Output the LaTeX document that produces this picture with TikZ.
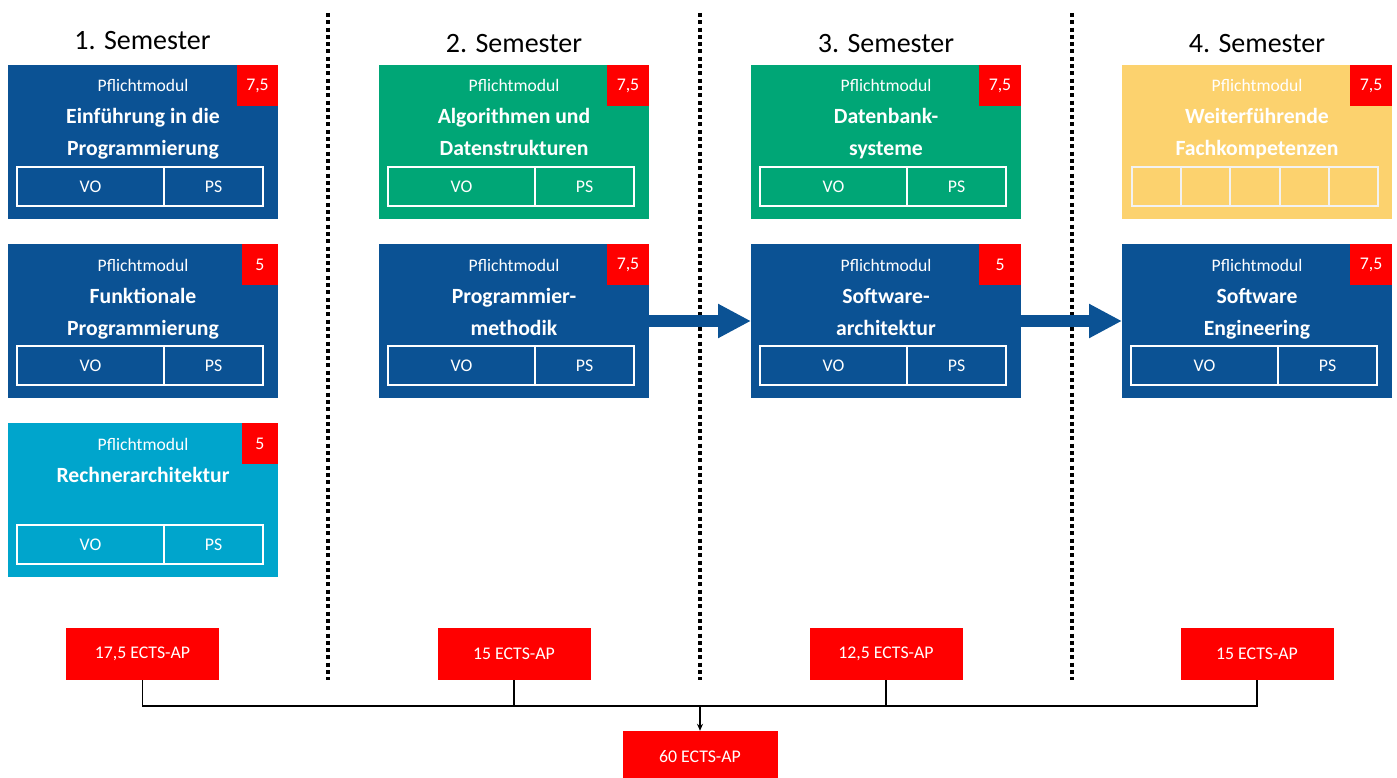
\documentclass[tikz,border=0pt]{standalone}
\usepackage{fontspec}
\setmainfont{Carlito}
\usetikzlibrary{arrows.meta}
\definecolor{uniblue}{RGB}{11,82,148}
\definecolor{unigreen}{RGB}{0,166,118}
\definecolor{unicyan}{RGB}{0,165,204}
\definecolor{uniyellow}{RGB}{252,210,110}
\definecolor{ectsred}{RGB}{255,0,0}
\definecolor{celllight}{RGB}{242,242,242}
\tikzset{
  modbg/.style={draw=none, minimum width=270pt, minimum height=154pt, inner sep=0pt, outer sep=0pt, anchor=north west},
  ptsbox/.style={fill=ectsred, text=white, inner sep=0pt, outer sep=0pt, minimum height=41pt, anchor=north east, font=\fontsize{17.8}{20}\selectfont},
  pflicht/.style={text=white, inner sep=0pt, anchor=base, font=\fontsize{17.6}{20}\selectfont},
  titleline/.style={text=white, inner sep=0pt, anchor=base, font=\fontsize{21.7}{26}\selectfont\bfseries},
  cell/.style={draw=white, line width=2pt, inner sep=0pt, outer sep=0pt, minimum height=39pt, anchor=north west, text=white, font=\fontsize{17.8}{20}\selectfont},
  lightcell/.style={draw=celllight, line width=2pt, inner sep=0pt, outer sep=0pt, minimum height=39pt, minimum width=49.2pt, anchor=north west},
  semester/.style={inner sep=0pt, anchor=base, font=\fontsize{28}{32}\selectfont},
  ects/.style={fill=ectsred, text=white, inner sep=0pt, minimum width=153pt, minimum height=52pt, font=\fontsize{17.8}{20}\selectfont},
  sepline/.style={line width=3.5pt, dash pattern=on 4pt off 3.3pt},
  bigarrow/.style={uniblue, line width=12pt, -{Triangle[length=33pt,width=32pt]}},
  conn/.style={line width=1.5pt, black},
}
% #1 name, #2 x, #3 y, #4 colour, #5 points, #6 red width, #7 title line 1, #8 title line 2
\newcommand\modbox[8]{%
  \node[modbg, fill=#4] (#1) at (#2,#3) {};
  \node[ptsbox, minimum width=#6pt] (#1-pts) at (#1.north east) {#5};
  \node[pflicht] (#1-pf) at ({#2+135},{#3+27}) {Pflichtmodul};
  \node[titleline] (#1-t1) at ({#2+135},{#3+59}) {#7};
  \node[titleline] (#1-t2) at ({#2+135},{#3+91}) {#8};
}
\newcommand\vopsrow[3]{%
  \node[cell, minimum width=147pt] (#1-vo) at ({#2+9},{#3+102}) {VO};
  \node[cell, minimum width=99pt] (#1-ps) at (#1-vo.north east) {PS};
}
\begin{document}
\begin{tikzpicture}[x=1pt,y=-1pt]
\useasboundingbox (0,0) rectangle (1397,778);

% semester headings
\node[semester] (s1) at (142.5,50) {1. Semester};
\node[semester] (s2) at (514,53) {2. Semester};
\node[semester] (s3) at (886,53) {3. Semester};
\node[semester] (s4) at (1257,53) {4. Semester};

% separators
\draw[sepline] (328,13) -- (328,680);
\draw[sepline] (700,13) -- (700,680);
\draw[sepline] (1072,13) -- (1072,680);

% column 1
\modbox{epr}{8}{65}{uniblue}{7,5}{41}{Einführung in die}{Programmierung}
\vopsrow{epr}{8}{65}
\modbox{fp}{8}{244}{uniblue}{5}{36}{Funktionale}{Programmierung}
\vopsrow{fp}{8}{244}
\modbox{ra}{8}{423}{unicyan}{5}{36}{Rechnerarchitektur}{}
\vopsrow{ra}{8}{423}

% column 2
\modbox{ad}{379}{65}{unigreen}{7,5}{42}{Algorithmen und}{Datenstrukturen}
\vopsrow{ad}{379}{65}
\modbox{pm}{379}{244}{uniblue}{7,5}{42}{Programmier-}{methodik}
\vopsrow{pm}{379}{244}

% column 3
\modbox{db}{751}{65}{unigreen}{7,5}{42}{Datenbank-}{systeme}
\vopsrow{db}{751}{65}
\modbox{sa}{751}{244}{uniblue}{5}{42}{Software-}{architektur}
\vopsrow{sa}{751}{244}

% column 4
\modbox{wf}{1122}{65}{uniyellow}{7,5}{42}{Weiterführende}{Fachkompetenzen}
\node[lightcell] (wf-c1) at (1132,167) {};
\node[lightcell] (wf-c2) at (wf-c1.north east) {};
\node[lightcell] (wf-c3) at (wf-c2.north east) {};
\node[lightcell] (wf-c4) at (wf-c3.north east) {};
\node[lightcell] (wf-c5) at (wf-c4.north east) {};
\modbox{se}{1122}{244}{uniblue}{7,5}{42}{Software}{Engineering}
\vopsrow{se}{1122}{244}

% arrows
\draw[bigarrow] (pm.east) -- (sa.west);
\draw[bigarrow] (sa.east) -- (se.west);

% ECTS
\node[ects] (e1) at (142.5,654) {17,5 ECTS-AP};
\node[ects] (e2) at (514,654) {15 ECTS-AP};
\node[ects] (e3) at (886,654) {12,5 ECTS-AP};
\node[ects] (e4) at (1257,654) {15 ECTS-AP};
\node[ects, minimum width=155pt] (tot) at (700,757) {60 ECTS-AP};

\coordinate (bus) at (700,706);
\draw[conn] (e1.south) |- (bus) -| (e4.south);
\draw[conn] (e2.south) -- (e2.south |- bus);
\draw[conn] (e3.south) -- (e3.south |- bus);
\draw[conn, -{Stealth[length=7pt,width=6pt]}] (bus) -- (tot.north);
\end{tikzpicture}
\end{document}
